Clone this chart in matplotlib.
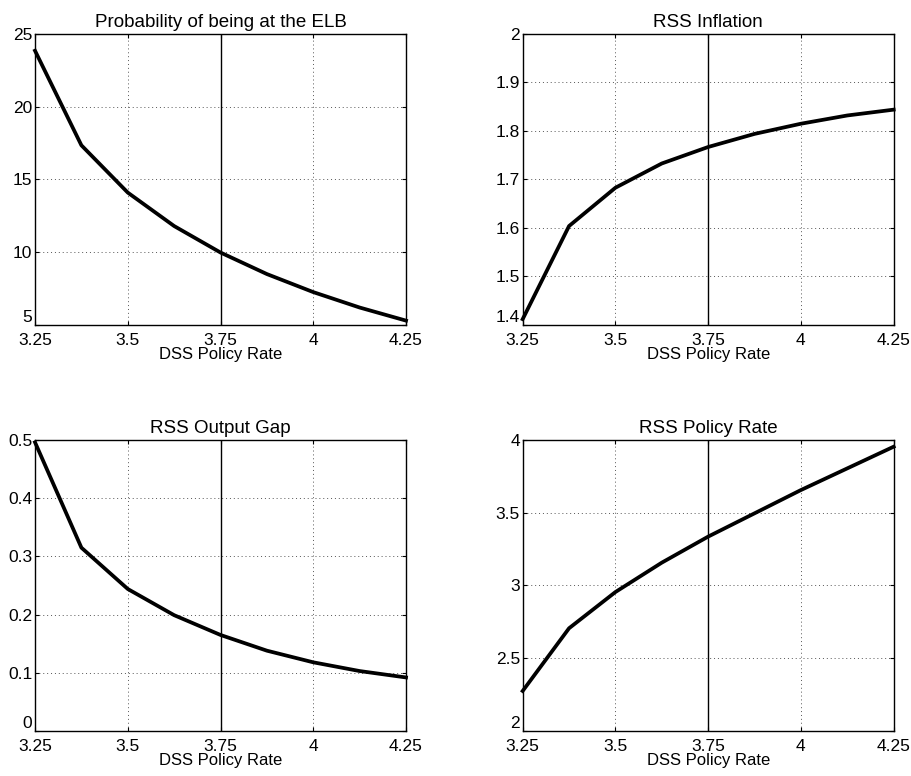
import matplotlib
matplotlib.use('Agg')
import matplotlib.pyplot as plt

plt.rcParams['font.family'] = ['Liberation Sans', 'DejaVu Sans']

# DSS policy rate grid
dss_rate = [3.25, 3.375, 3.5, 3.625, 3.75, 3.875, 4.0, 4.125, 4.25]

# series
prob_elb = [23.85, 17.35, 14.1, 11.8, 9.98, 8.5, 7.26, 6.2, 5.3]
rss_inflation = [1.412, 1.604, 1.683, 1.733, 1.767, 1.794, 1.815, 1.832, 1.844]
rss_output_gap = [0.496, 0.315, 0.244, 0.199, 0.165, 0.138, 0.118, 0.103, 0.092]
rss_policy_rate = [2.275, 2.706, 2.955, 3.157, 3.336, 3.496, 3.656, 3.805, 3.954]

x_ticks = [3.25, 3.5, 3.75, 4.0, 4.25]
x_ticklabels = ['3.25', '3.5', '3.75', '4', '4.25']
dss_value = 3.75

panels = [
    ('Probability of being at the ELB', prob_elb, (5, 25), [5, 10, 15, 20, 25], ['5', '10', '15', '20', '25']),
    ('RSS Inflation', rss_inflation, (1.4, 2.0), [1.4, 1.5, 1.6, 1.7, 1.8, 1.9, 2.0],
     ['1.4', '1.5', '1.6', '1.7', '1.8', '1.9', '2']),
    ('RSS Output Gap', rss_output_gap, (0, 0.5), [0, 0.1, 0.2, 0.3, 0.4, 0.5],
     ['0', '0.1', '0.2', '0.3', '0.4', '0.5']),
    ('RSS Policy Rate', rss_policy_rate, (2, 4), [2, 2.5, 3, 3.5, 4], ['2', '2.5', '3', '3.5', '4']),
]

# axes rectangles [left, bottom, width, height] in figure fractions
rects = [
    [0.0384, 0.5812, 0.4068, 0.375],
    [0.5731, 0.5812, 0.4068, 0.375],
    [0.0384, 0.0580, 0.4068, 0.375],
    [0.5731, 0.0580, 0.4068, 0.375],
]

fig = plt.figure(figsize=(9.12, 7.76), dpi=100)

for rect, (title, values, ylim, yticks, ylabels) in zip(rects, panels):
    ax = fig.add_axes(rect)
    ax.plot(dss_rate, values, color='black', linewidth=2.7, solid_joinstyle='round', clip_on=False, zorder=3)
    ax.axvline(dss_value, color='black', linewidth=1.0, zorder=2)
    ax.set_xlim(3.25, 4.25)
    ax.set_ylim(*ylim)
    ax.set_xticks(x_ticks)
    ax.set_xticklabels(x_ticklabels)
    ax.set_yticks(yticks)
    ax.set_yticklabels(ylabels)
    ax.set_title(title, fontsize=13.5, pad=5)
    ax.set_xlabel('DSS Policy Rate', fontsize=12, labelpad=-1)
    ax.grid(True, linestyle=(0, (1, 3)), color='#555555', linewidth=0.7)
    ax.tick_params(direction='in', length=3, width=0.8, labelsize=12.5, top=True, right=True)
    ax.tick_params(axis='x', pad=6)
    ax.tick_params(axis='y', pad=2)
    # lowest y label sits just above the x labels, as in the original
    ax.get_yticklabels()[0].set_verticalalignment('bottom')
    for spine in ax.spines.values():
        spine.set_linewidth(1.0)

fig.savefig('out.png', dpi=100)
